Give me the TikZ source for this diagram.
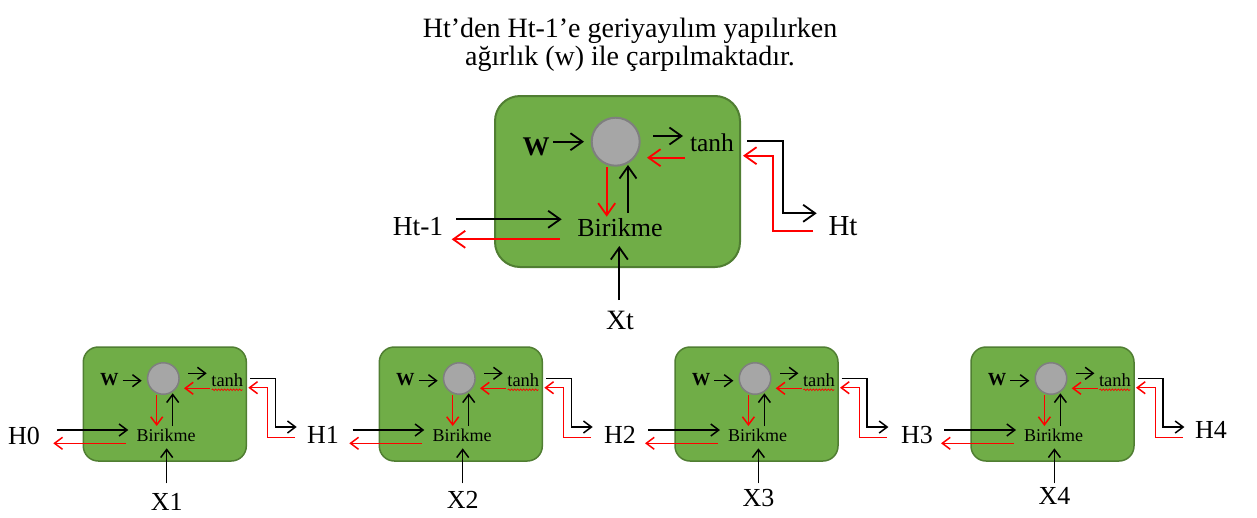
\documentclass[tikz,border=0pt]{standalone}
\usepackage{fontspec}
\setmainfont{Liberation Serif}
\usetikzlibrary{arrows.meta,decorations.pathmorphing}
\definecolor{cellgreen}{HTML}{70AD47}
\definecolor{cellborder}{HTML}{507E32}
\definecolor{circfill}{HTML}{A6A6A6}
\definecolor{circborder}{HTML}{7F7F7F}
\definecolor{backred}{HTML}{FF0000}
\begin{document}
\begin{tikzpicture}[x=1pt,y=-1pt,
  bigarr/.style={-{Straight Barb[length=12pt,width=17pt]}, line width=1.8pt},
  smallarr/.style={-{Straight Barb[length=8pt,width=12pt]}, line width=1.5pt},
  fwd/.style={draw=black},
  bwd/.style={draw=backred},
  cellbox/.style={draw=cellborder, fill=cellgreen, inner sep=0pt},
  gate/.style={circle, fill=circfill, draw=circborder, inner sep=0pt},
  lbl/.style={anchor=base, inner sep=0pt},
]
\useasboundingbox (0,0) rectangle (1257,517);

% title
\node[lbl] (t1) at (630,37) {\fontsize{28}{30}\selectfont Ht’den Ht-1’e geriyayılım yapılırken};
\node[lbl] (t2) at (630,65.5) {\fontsize{28}{30}\selectfont ağırlık (w) ile çarpılmaktadır.};

% ---------- big cell ----------
\node[cellbox, line width=2pt, rounded corners=25pt, minimum width=245pt, minimum height=171pt] (box) at (617.5,181.5) {};
\node[gate, line width=2pt, minimum size=48pt] (circ) at (615.7,141.7) {};
\node[lbl] (W) at (536,155) {\fontsize{27}{28}\selectfont\bfseries W};
\node[lbl] (tanh) at (712,151.7) {\fontsize{25.5}{28}\selectfont tanh};
\node[lbl] (bir) at (620,236.7) {\fontsize{26}{28}\selectfont Birikme};
\node[lbl] (Htm) at (418,235.7) {\fontsize{27.5}{30}\selectfont Ht-1};
\node[lbl] (Ht) at (843,235.5) {\fontsize{29}{30}\selectfont Ht};
\node[lbl] (Xt) at (620,329.3) {\fontsize{28}{30}\selectfont Xt};

\draw[bigarr,fwd] (553,141.7) -- (584,141.7);
\draw[bigarr,fwd] (653,136) -- (683,136);
\draw[bigarr,bwd] (685,157.7) -- (647,157.7);
\draw[bigarr,fwd] (747,140.7) -- (782.7,140.7) -- (782.7,213.3) -- (816.7,213.3);
\draw[bigarr,bwd] (813,231) -- (773,231) -- (773,155.7) -- (743,155.7);
\draw[bigarr,bwd] (606.7,167) -- (606.7,216.7);
\draw[bigarr,fwd] (628,213) -- (628,165);
\draw[bigarr,fwd] (456,219.3) -- (561.7,219.3);
\draw[bigarr,bwd] (560,239.3) -- (451.7,239.3);
\draw[bigarr,fwd] (619.3,300) -- (619.3,246);

% ---------- small cells ----------
\foreach \L/\i/\xb in {83.3/1/510, 379.3/2/508, 675/3/506, 971/4/504}{
  \begin{scope}[xshift=\L pt]
    \node[cellbox, line width=1.5pt, rounded corners=15pt, minimum width=163pt, minimum height=114pt] (c\i-box) at (81.5,404) {};
    \node[gate, line width=1.5pt, minimum size=31.5pt] (c\i-circ) at (80,378.5) {};
    \node[lbl] (c\i-W) at (26,385.7) {\fontsize{18.5}{20}\selectfont\bfseries W};
    \node[lbl] (c\i-tanh) at (144,386.7) {\fontsize{18.5}{20}\selectfont tanh};
    \node[lbl] (c\i-bir) at (82.7,441.7) {\fontsize{18}{20}\selectfont Birikme};
    \node[lbl] (c\i-X) at (83.4,\xb) {\fontsize{26}{28}\selectfont X\i};
    \draw[backred, line width=0.7pt, decorate, decoration={snake, amplitude=0.8pt, segment length=3pt}] (128.4,389.8) -- (159.4,389.8);
    \draw[smallarr,fwd] (39.4,380.7) -- (58.4,380.7);
    \draw[smallarr,fwd] (105,373.3) -- (123.4,373.3);
    \draw[smallarr,bwd] (126.7,388.3) -- (100.7,388.3);
    \draw[smallarr,fwd] (166.7,378.3) -- (192,378.3) -- (192,427) -- (213.4,427);
    \draw[smallarr,bwd] (211.7,437.7) -- (184.4,437.7) -- (184.4,387.7) -- (165,387.7);
    \draw[smallarr,bwd] (73.4,395) -- (73.4,426);
    \draw[smallarr,fwd] (89.4,426) -- (89.4,393.3);
    \draw[smallarr,fwd] (-26.6,430) -- (45,430);
    \draw[smallarr,bwd] (42.7,443.3) -- (-30,443.3);
    \draw[smallarr,fwd] (83.4,483.3) -- (83.4,448.3);
  \end{scope}
}
\node[lbl] (H0) at (24,444) {\fontsize{26}{28}\selectfont H0};
\node[lbl] (H1) at (323,443.5) {\fontsize{26}{28}\selectfont H1};
\node[lbl] (H2) at (620,443.5) {\fontsize{26}{28}\selectfont H2};
\node[lbl] (H3) at (917,443.5) {\fontsize{26}{28}\selectfont H3};
\node[lbl] (H4) at (1211,438.3) {\fontsize{26}{28}\selectfont H4};
\end{tikzpicture}
\end{document}
